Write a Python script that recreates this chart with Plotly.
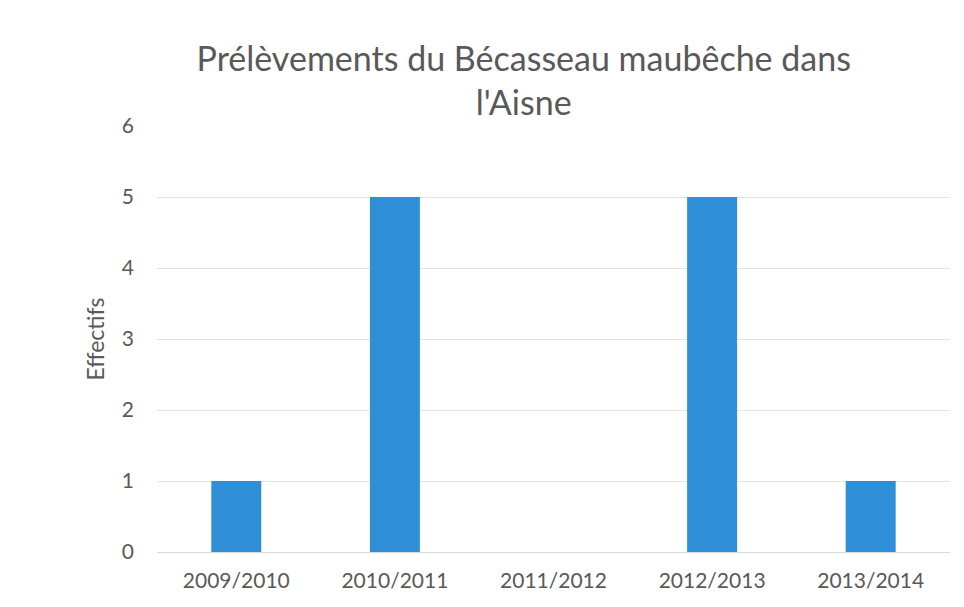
import plotly.graph_objects as go

seasons = ["2009/2010", "2010/2011", "2011/2012", "2012/2013", "2013/2014"]
effectifs = [1, 5, 0, 5, 1]
y_ticks = [0, 1, 2, 3, 4, 5, 6]

title_text = "Prélèvements du Bécasseau maubêche dans<br>l'Aisne"
font_family = "Lato, 'Open Sans', sans-serif"
text_color = "#595959"

fig = go.Figure(
    go.Bar(
        x=seasons,
        y=effectifs,
        marker=dict(color="#2f8fd6", line=dict(width=0)),
        width=0.315,
    )
)

fig.update_layout(
    width=964,
    height=607,
    paper_bgcolor="white",
    plot_bgcolor="white",
    margin=dict(l=149, r=22, t=118, b=63),
    showlegend=False,
    font=dict(family=font_family, color=text_color),
    title=dict(
        text=title_text,
        x=0.535,
        xanchor="center",
        y=0.896,
        yanchor="top",
        font=dict(size=34, color=text_color, family=font_family),
    ),
)

fig.update_xaxes(
    showgrid=False,
    showline=True,
    linecolor="#d9d9d9",
    linewidth=1,
    ticks="",
    tickfont=dict(size=21, color=text_color),
    ticklabelstandoff=10,
)

fig.update_yaxes(
    range=[0, 6],
    tickvals=y_ticks,
    showgrid=True,
    gridcolor="#e3e3e3",
    gridwidth=1,
    zeroline=False,
    showline=False,
    ticks="",
    tickfont=dict(size=21, color=text_color),
    ticklabelstandoff=22,
    title=dict(text="Effectifs", font=dict(size=23, color=text_color), standoff=10),
)

fig.write_html("out.html")
